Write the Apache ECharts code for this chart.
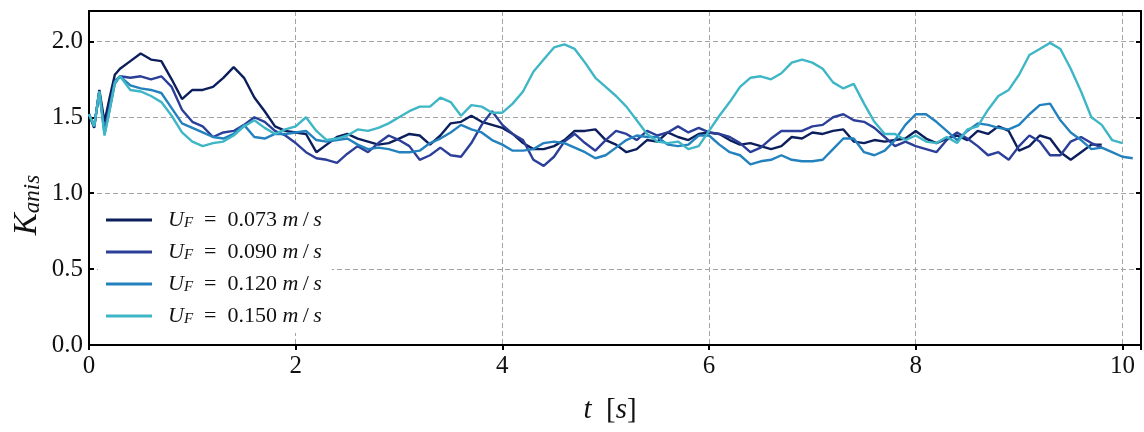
<!DOCTYPE html>
<html><head><meta charset="utf-8">
<script src="https://cdn.jsdelivr.net/npm/echarts@6/dist/echarts.min.js"></script>
<style>html,body{margin:0;padding:0;background:#fff}#c{width:1144px;height:432px}</style>
</head><body><div id="c"></div>
<script>
// time stamps [s]
const T = [0,0.05,0.1,0.15,0.2,0.25,0.3,
0.4,0.5,0.6,0.7,0.8,0.9,1.0,1.1,1.2,1.3,
1.4,1.5,1.6,1.7,1.8,1.9,2.0,2.1,2.2,2.3,
2.4,2.5,2.6,2.7,2.8,2.9,3.0,3.1,3.2,3.3,
3.4,3.5,3.6,3.7,3.8,3.9,4.0,4.1,4.2,4.3,
4.4,4.5,4.6,4.7,4.8,4.9,5.0,5.1,5.2,5.3,
5.4,5.5,5.6,5.7,5.8,5.9,6.0,6.1,6.2,6.3,
6.4,6.5,6.6,6.7,6.8,6.9,7.0,7.1,7.2,7.3,
7.4,7.5,7.6,7.7,7.8,7.9,8.0,8.1,8.2,8.3,
8.4,8.5,8.6,8.7,8.8,8.9,9.0,9.1,9.2,9.3,
9.4,9.5,9.6,9.7,9.8,9.9,10.0,10.1];

const K073 = [1.52,1.43,1.68,1.47,1.63,1.78,1.82,
1.87,1.92,1.88,1.87,1.75,1.62,1.68,1.68,1.70,1.76,
1.83,1.76,1.63,1.54,1.44,1.41,1.40,1.39,1.27,1.32,
1.37,1.39,1.36,1.34,1.32,1.33,1.36,1.39,1.38,1.32,
1.38,1.46,1.47,1.51,1.47,1.45,1.43,1.39,1.33,1.29,
1.29,1.31,1.35,1.41,1.41,1.42,1.35,1.32,1.27,1.29,
1.35,1.34,1.40,1.37,1.35,1.39,1.40,1.39,1.35,1.32,
1.33,1.31,1.29,1.31,1.37,1.36,1.40,1.39,1.41,1.42,
1.34,1.33,1.35,1.34,1.35,1.36,1.41,1.36,1.33,1.36,
1.38,1.35,1.41,1.39,1.44,1.41,1.28,1.31,1.38,1.36,
1.27,1.22,1.27,1.32,1.32];

const K090 = [1.52,1.44,1.67,1.41,1.58,1.74,1.77,
1.76,1.77,1.75,1.77,1.70,1.55,1.47,1.44,1.37,1.40,
1.41,1.45,1.50,1.47,1.41,1.38,1.33,1.27,1.23,1.22,
1.20,1.26,1.31,1.27,1.33,1.38,1.35,1.31,1.22,1.25,
1.30,1.25,1.24,1.33,1.45,1.54,1.45,1.39,1.35,1.22,
1.18,1.24,1.34,1.39,1.33,1.28,1.35,1.41,1.39,1.35,
1.41,1.38,1.40,1.44,1.40,1.43,1.40,1.39,1.37,1.33,
1.27,1.30,1.36,1.41,1.41,1.41,1.44,1.45,1.50,1.52,
1.48,1.47,1.43,1.37,1.31,1.34,1.31,1.29,1.27,1.35,
1.40,1.36,1.31,1.25,1.27,1.22,1.31,1.38,1.34,1.25,
1.25,1.34,1.37,1.33,1.30];

const K120 = [1.52,1.44,1.67,1.39,1.55,1.72,1.77,
1.71,1.69,1.68,1.66,1.56,1.46,1.43,1.40,1.37,1.36,
1.39,1.45,1.37,1.36,1.39,1.39,1.40,1.41,1.35,1.34,
1.35,1.36,1.32,1.29,1.30,1.29,1.27,1.27,1.28,1.33,
1.36,1.40,1.45,1.42,1.40,1.35,1.32,1.28,1.28,1.29,
1.33,1.34,1.33,1.30,1.27,1.23,1.25,1.30,1.35,1.38,
1.37,1.37,1.32,1.31,1.32,1.38,1.38,1.32,1.27,1.25,
1.19,1.21,1.22,1.25,1.22,1.21,1.21,1.22,1.29,1.36,
1.36,1.27,1.25,1.28,1.35,1.45,1.52,1.52,1.47,1.41,
1.35,1.41,1.46,1.45,1.43,1.42,1.45,1.52,1.58,1.59,
1.48,1.40,1.35,1.29,1.30,1.27,1.24,1.23];

const K150 = [1.52,1.44,1.67,1.38,1.55,1.73,1.77,
1.68,1.67,1.64,1.60,1.51,1.40,1.34,1.31,1.33,1.34,
1.38,1.44,1.48,1.43,1.39,1.42,1.44,1.50,1.41,1.35,
1.36,1.38,1.42,1.41,1.43,1.46,1.50,1.54,1.57,1.57,
1.63,1.60,1.51,1.58,1.57,1.53,1.53,1.59,1.67,1.80,
1.88,1.96,1.98,1.95,1.86,1.76,1.70,1.64,1.57,1.48,
1.39,1.34,1.33,1.34,1.29,1.31,1.41,1.51,1.60,1.70,
1.76,1.77,1.75,1.79,1.86,1.88,1.86,1.82,1.73,1.69,
1.72,1.59,1.47,1.39,1.39,1.35,1.38,1.34,1.33,1.37,
1.33,1.42,1.44,1.55,1.64,1.68,1.78,1.91,1.95,1.99,
1.95,1.82,1.67,1.50,1.45,1.35,1.33];

const SPEEDS = ['0.073','0.090','0.120','0.150'];
const COLORS = ['#0c1f5c','#2b3f99','#2381be','#3eb6c6'];
const YTICKS = [0,0.5,1.0,1.5,2.0];
const XTICKS = [0,2,4,6,8,10];

const VALUES = [K073,K090,K120,K150];
const NAMES = SPEEDS.map(s => 'U_F = ' + s + ' m/s');
const SERIF = '"Liberation Serif","DejaVu Serif",serif';

function pairs(vals){ const out=[]; for(let i=0;i<vals.length;i++) out.push([T[i], vals[i]]); return out; }

const chart = echarts.init(document.getElementById('c'), null, {renderer:'canvas'});
const FRAME = {show: true, onZero: false, lineStyle: {color: '#000', width: 2}};
chart.setOption({
  animation: false,
  backgroundColor: '#fff',
  grid: {left: 89, right: 3, top: 11, bottom: 87, show: false},
  legend: {
    data: NAMES,
    orient: 'vertical',
    left: 98, top: 203,
    icon: 'rect',
    itemWidth: 46, itemHeight: 3,
    itemGap: 10,
    backgroundColor: '#fff',
    padding: [6, 10, 6, 8],
    formatter: function(name){
      const i = NAMES.indexOf(name);
      return '{i|U}{sub|F}{n|  =  ' + SPEEDS[i] + ' }{i|m}{n|\u2009/\u2009}{i|s}';
    },
    textStyle: {
      padding: [0,0,0,11],
      rich: {
        i: {fontFamily: SERIF, fontStyle: 'italic', fontSize: 22, lineHeight: 22, color: '#111'},
        sub: {fontFamily: SERIF, fontStyle: 'italic', fontSize: 15, lineHeight: 14, verticalAlign: 'bottom', color: '#111'},
        n: {fontFamily: SERIF, fontSize: 22, lineHeight: 22, color: '#111'}
      }
    }
  },
  xAxis: [{
    type: 'value', min: 0, max: 10.18, interval: 2, position: 'bottom',
    axisLine: FRAME,
    axisTick: {show: true, inside: false, length: 5, lineStyle: {color: '#000', width: 2}},
    axisLabel: {
      margin: 9, color: '#111', fontFamily: SERIF, fontSize: 25,
      formatter: v => (XTICKS.indexOf(v) >= 0 ? String(v) : '')
    },
    splitLine: {show: true, lineStyle: {color: '#a3a3a3', width: 1, type: [5, 3]}}
  },{
    type: 'value', min: 0, max: 10.18, interval: 2, position: 'top',
    axisLine: FRAME,
    axisTick: {show: false}, axisLabel: {show: false}, splitLine: {show: false}
  }],
  yAxis: [{
    type: 'value', min: 0, max: 2.2, interval: 0.5, position: 'left',
    axisLine: FRAME,
    axisTick: {show: true, inside: true, length: 5, lineStyle: {color: '#000', width: 2}},
    axisLabel: {
      margin: 6, color: '#111', fontFamily: SERIF, fontSize: 25,
      formatter: v => (YTICKS.indexOf(v) >= 0 ? v.toFixed(1) : '')
    },
    splitLine: {show: true, lineStyle: {color: '#a3a3a3', width: 1, type: [5, 3]}}
  },{
    type: 'value', min: 0, max: 2.2, interval: 0.5, position: 'right',
    axisLine: FRAME,
    axisTick: {show: true, inside: true, length: 5, lineStyle: {color: '#000', width: 2}},
    axisLabel: {show: false},
    splitLine: {show: false}
  }],
  series: VALUES.map((vals, k) => ({
    name: NAMES[k], type: 'line', data: pairs(vals),
    xAxisIndex: 0, yAxisIndex: 0,
    showSymbol: false, symbol: 'none', smooth: false,
    lineStyle: {color: COLORS[k], width: 2.4},
    itemStyle: {color: COLORS[k]},
    z: 2 + k
  })),
  graphic: [
    {type: 'text', x: 27, y: 205, rotation: Math.PI/2,
     style: {text: '{k|K}{s|anis}', align: 'center', verticalAlign: 'middle',
       rich: {
         k: {fontFamily: SERIF, fontStyle: 'italic', fontSize: 33, lineHeight: 34, fill: '#111'},
         s: {fontFamily: SERIF, fontStyle: 'italic', fontSize: 23, lineHeight: 22, verticalAlign: 'bottom', fill: '#111'}
       }}},
    {type: 'text', x: 610, y: 410,
     style: {text: '{i|t}{n|  [}{i|s}{n|]}', align: 'center', verticalAlign: 'middle',
       rich: {
         i: {fontFamily: SERIF, fontStyle: 'italic', fontSize: 29, fill: '#111'},
         n: {fontFamily: SERIF, fontSize: 29, fill: '#111'}
       }}}
  ]
});
</script>
</body></html>
